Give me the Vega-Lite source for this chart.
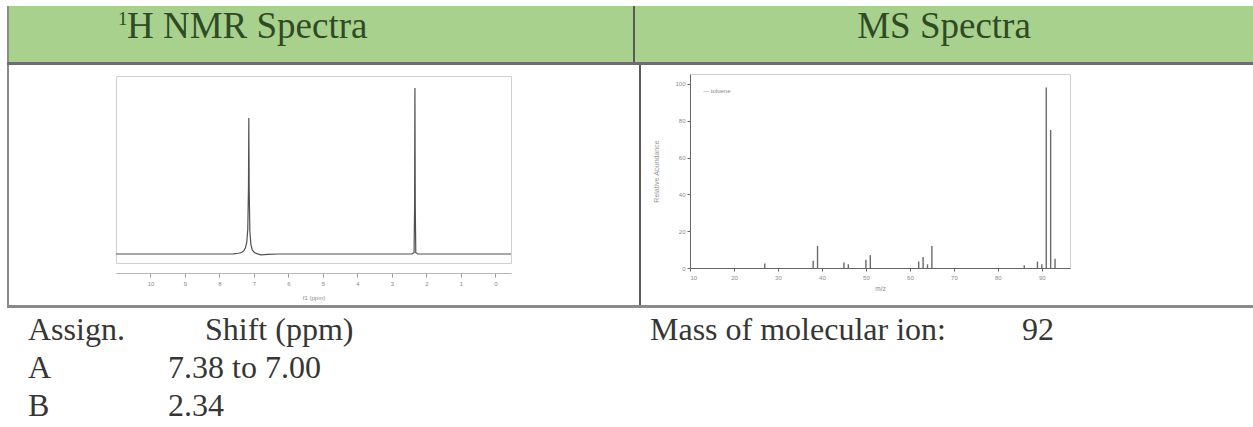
{
  "$schema": "https://vega.github.io/schema/vega-lite/v6.json",
  "background": "white",
  "padding": {"top": 6, "left": 7, "right": 0, "bottom": 0},
  "spacing": 0,
  "config": {
    "view": {"stroke": null},
    "axis": {"grid": false, "labelFont": "Liberation Sans", "titleFont": "Liberation Sans", "labelOverlap": false}
  },
  "vconcat": [
    {
      "spacing": 0,
      "hconcat": [
        {"width": 2, "height": 56, "view": {"fill": "#8c8c8c", "stroke": null}, "data": {"values": []}, "mark": "point", "encoding": {}},
        {"width": 624, "height": 56, "view": {"fill": "#a9d18e", "stroke": null},
         "data": {"values": [{"main": "H NMR Spectra", "sup": "1"}]},
         "layer": [
           {"mark": {"type": "text", "font": "Liberation Serif", "fontSize": 37, "color": "#2f4a24", "align": "left", "baseline": "alphabetic", "dx": -194, "dy": 4},
            "encoding": {"text": {"field": "main"}}},
           {"mark": {"type": "text", "font": "Liberation Serif", "fontSize": 19, "color": "#2f4a24", "align": "left", "baseline": "alphabetic", "dx": -203, "dy": -9},
            "encoding": {"text": {"field": "sup"}}}
         ]},
        {"width": 2, "height": 56, "view": {"fill": "#5a5a5a", "stroke": null}, "data": {"values": []}, "mark": "point", "encoding": {}},
        {"width": 618, "height": 56, "view": {"fill": "#a9d18e", "stroke": null},
         "data": {"values": [{"title": "MS Spectra"}]},
         "mark": {"type": "text", "font": "Liberation Serif", "fontSize": 37, "color": "#2f4a24", "align": "center", "baseline": "alphabetic", "dy": 4},
         "encoding": {"text": {"field": "title"}}}
      ]
    },
    {"width": 1246, "height": 3, "view": {"fill": "#6d6d6d", "stroke": null}, "data": {"values": []}, "mark": "point", "encoding": {}},
    {
      "spacing": 0,
      "hconcat": [
        {"width": 2, "height": 240, "view": {"fill": "#8c8c8c", "stroke": null}, "data": {"values": []}, "mark": "point", "encoding": {}},
        {
          "spacing": 0,
          "hconcat": [
            {"width": 104, "height": 10, "data": {"values": []}, "mark": "point", "encoding": {}},
            {
              "spacing": 0,
              "vconcat": [
                {"width": 395, "height": 10, "data": {"values": []}, "mark": "point", "encoding": {}},
                {
                  "width": 395, "height": 187,
                  "view": {"stroke": "#cfcfcf", "fill": "white"},
                  "data": {"values": [
                    {"ppm": 11.0, "intensity": 0.048},
                    {"ppm": 9.0, "intensity": 0.048},
                    {"ppm": 7.6, "intensity": 0.049},
                    {"ppm": 7.45, "intensity": 0.052},
                    {"ppm": 7.36, "intensity": 0.056},
                    {"ppm": 7.3, "intensity": 0.065},
                    {"ppm": 7.25, "intensity": 0.08},
                    {"ppm": 7.21, "intensity": 0.11},
                    {"ppm": 7.18, "intensity": 0.18},
                    {"ppm": 7.16, "intensity": 0.4},
                    {"ppm": 7.15, "intensity": 0.775},
                    {"ppm": 7.14, "intensity": 0.4},
                    {"ppm": 7.12, "intensity": 0.17},
                    {"ppm": 7.09, "intensity": 0.1},
                    {"ppm": 7.05, "intensity": 0.07},
                    {"ppm": 6.99, "intensity": 0.056},
                    {"ppm": 6.9, "intensity": 0.049},
                    {"ppm": 6.8, "intensity": 0.044},
                    {"ppm": 6.6, "intensity": 0.046},
                    {"ppm": 6.3, "intensity": 0.048},
                    {"ppm": 2.42, "intensity": 0.048},
                    {"ppm": 2.36, "intensity": 0.055},
                    {"ppm": 2.345, "intensity": 0.3},
                    {"ppm": 2.335, "intensity": 0.936},
                    {"ppm": 2.325, "intensity": 0.3},
                    {"ppm": 2.31, "intensity": 0.055},
                    {"ppm": 2.25, "intensity": 0.048},
                    {"ppm": -0.45, "intensity": 0.048}
                  ]},
                  "mark": {"type": "line", "color": "#505050", "strokeWidth": 1.2},
                  "encoding": {
                    "x": {"field": "ppm", "type": "quantitative",
                          "scale": {"domain": [-0.45, 11.0], "reverse": true, "nice": false, "zero": false},
                          "axis": {"values": [0,1,2,3,4,5,6,7,8,9,10], "format": "d", "title": "f1 (ppm)", "offset": 10, "tickSize": 4, "labelPadding": 3, "labelFontSize": 6, "labelColor": "#8a8a8a", "tickColor": "#9a9a9a", "domainColor": "#b5b5b5", "titleFontSize": 6, "titleColor": "#8a8a8a", "titlePadding": 8, "titleFontWeight": "normal"}},
                    "y": {"field": "intensity", "type": "quantitative", "scale": {"domain": [0, 1], "nice": false}, "axis": null}
                  }
                }
              ]
            },
            {"width": 125, "height": 10, "data": {"values": []}, "mark": "point", "encoding": {}}
          ]
        },
        {"width": 2, "height": 240, "view": {"fill": "#5a5a5a", "stroke": null}, "data": {"values": []}, "mark": "point", "encoding": {}},
        {
          "spacing": 0,
          "hconcat": [
            {"width": 10, "height": 8, "data": {"values": []}, "mark": "point", "encoding": {}},
            {
              "spacing": 0,
              "vconcat": [
                {"width": 380, "height": 8, "data": {"values": []}, "mark": "point", "encoding": {}},
                {
                  "width": 380, "height": 194,
                  "view": {"stroke": "#d0d0d0", "fill": "white"},
                  "encoding": {
                    "x": {"field": "mz", "type": "quantitative",
                          "scale": {"domain": [10, 96.4], "nice": false, "zero": false},
                          "axis": {"values": [10,20,30,40,50,60,70,80,90], "title": "m/z", "tickSize": 3, "labelPadding": 3, "labelFontSize": 6, "labelColor": "#8a8a8a", "tickColor": "#666666", "domainColor": "#666666", "titleFontSize": 6.5, "titleColor": "#8a8a8a", "titlePadding": 5, "titleFontWeight": "normal"}},
                    "y": {"field": "abundance", "type": "quantitative",
                          "scale": {"domain": [0, 105.4], "nice": false},
                          "axis": {"values": [0,20,40,60,80,100], "title": "Relative Abundance", "tickSize": 3, "labelPadding": 2, "labelFontSize": 6, "labelColor": "#8a8a8a", "tickColor": "#666666", "domainColor": "#666666", "titleFontSize": 7, "titleColor": "#999999", "titlePadding": 9, "minExtent": 22, "maxExtent": 22, "titleFontWeight": "normal"}}
                  },
                  "layer": [
                    {
                      "data": {"values": [
                        {"mz": 27, "abundance": 2.5},
                        {"mz": 38, "abundance": 4},
                        {"mz": 39, "abundance": 12},
                        {"mz": 45, "abundance": 3},
                        {"mz": 46, "abundance": 2},
                        {"mz": 50, "abundance": 4.5},
                        {"mz": 51, "abundance": 7},
                        {"mz": 62, "abundance": 3.5},
                        {"mz": 63, "abundance": 6},
                        {"mz": 64, "abundance": 2},
                        {"mz": 65, "abundance": 12},
                        {"mz": 86, "abundance": 1.5},
                        {"mz": 89, "abundance": 3.5},
                        {"mz": 90, "abundance": 2},
                        {"mz": 91, "abundance": 98},
                        {"mz": 92, "abundance": 75},
                        {"mz": 93, "abundance": 5}
                      ]},
                      "mark": {"type": "rule", "strokeWidth": 1.4, "color": "#6a6a6a"},
                      "encoding": {"y2": {"datum": 0}}
                    },
                    {
                      "data": {"values": [{"mz": 13, "abundance": 96, "name": "— toluene"}]},
                      "mark": {"type": "text", "align": "left", "baseline": "middle", "fontSize": 6, "font": "Liberation Sans", "color": "#8a8a8a"},
                      "encoding": {"text": {"field": "name"}}
                    }
                  ]
                }
              ]
            }
          ]
        }
      ]
    },
    {"width": 1246, "height": 3, "view": {"fill": "#8a8a8a", "stroke": null}, "data": {"values": []}, "mark": "point", "encoding": {}},
    {
      "spacing": 0,
      "hconcat": [
        {
          "width": 626, "height": 119,
          "data": {"values": [
            {"row": "header", "assign": "Assign.", "shift": "Shift (ppm)"},
            {"row": "A", "assign": "A", "shift": "7.38 to 7.00"},
            {"row": "B", "assign": "B", "shift": "2.34"}
          ]},
          "transform": [{"fold": ["assign", "shift"], "as": ["column", "label"]}],
          "encoding": {
            "x": {"field": "column", "type": "nominal", "scale": {"type": "point", "domain": ["assign", "shift"], "range": [21, 161], "padding": 0}, "axis": null},
            "y": {"field": "row", "type": "nominal", "scale": {"type": "point", "domain": ["header", "A", "B"], "range": [32, 108], "padding": 0}, "axis": null},
            "text": {"field": "label"}
          },
          "layer": [
            {"transform": [{"filter": "datum.row !== 'header' || datum.column === 'assign'"}],
             "mark": {"type": "text", "align": "left", "baseline": "alphabetic", "font": "Liberation Serif", "fontSize": 32, "color": "#363636"}},
            {"transform": [{"filter": "datum.row === 'header' && datum.column === 'shift'"}],
             "mark": {"type": "text", "align": "left", "baseline": "alphabetic", "font": "Liberation Serif", "fontSize": 32, "color": "#363636", "dx": 37}}
          ]
        },
        {
          "width": 620, "height": 119,
          "data": {"values": [{"row": "mass", "name": "Mass of molecular ion:", "value": "92"}]},
          "transform": [{"fold": ["name", "value"], "as": ["column", "label"]}],
          "mark": {"type": "text", "align": "left", "baseline": "alphabetic", "font": "Liberation Serif", "fontSize": 32, "color": "#363636"},
          "encoding": {
            "x": {"field": "column", "type": "nominal", "scale": {"type": "point", "domain": ["name", "value"], "range": [17, 389], "padding": 0}, "axis": null},
            "y": {"field": "row", "type": "nominal", "scale": {"type": "point", "domain": ["mass"], "range": [32, 32], "padding": 0}, "axis": null},
            "text": {"field": "label"}
          }
        }
      ]
    }
  ]
}
